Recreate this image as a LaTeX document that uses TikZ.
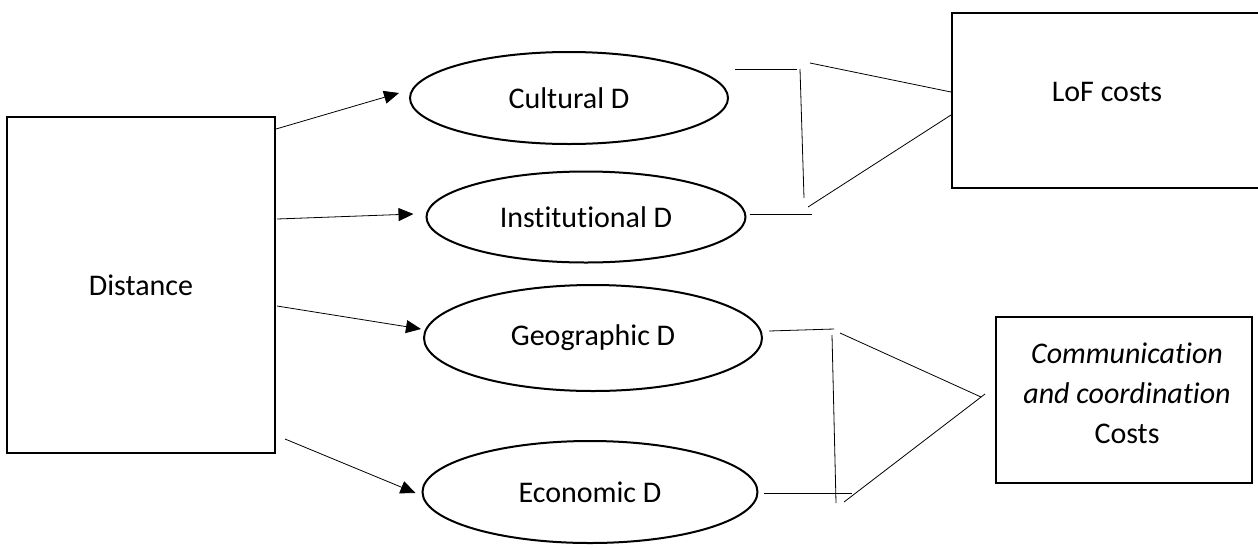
\documentclass[tikz,border=0pt]{standalone}
\usepackage{fontspec}
\setmainfont[Ligatures=NoCommon]{Carlito}
\usetikzlibrary{shapes.geometric,arrows.meta,calc}
\begin{document}
\begin{tikzpicture}[x=1pt,y=-1pt,
  box/.style={draw,line width=2pt,rectangle,inner sep=0pt},
  oval/.style={draw,line width=2pt,ellipse,inner sep=0pt},
  link/.style={line width=0.8pt},
  arr/.style={line width=0.8pt,-{Triangle[length=15pt,width=13pt]}},
  font=\fontsize{30}{40}\selectfont]
\useasboundingbox (0,0) rectangle (1258,547);

% nodes
\node[box,minimum width=268pt,minimum height=336pt] (dist) at (141,285) {Distance};
\node[oval,minimum width=318pt,minimum height=92pt] (cul) at (569,98) {Cultural D};
\node[oval,minimum width=319pt,minimum height=91pt] (ins) at (586,217) {Institutional D};
\node[oval,minimum width=338pt,minimum height=106pt] (geo) at (593,338) {Geographic D};
\node[oval,minimum width=335pt,minimum height=102pt] (eco) at (590,492) {Economic D};
\node[box,minimum width=310pt,minimum height=175pt] (lof) at (1107,100.5) {};
\node (lofT) at (1107,92) {LoF costs};
\node[box,minimum width=256pt,minimum height=166pt] (com) at (1124,400) {};
\node[align=center] (comT) at (1127,393) {\textit{Communication}\\\textit{and coordination}\\Costs};

% arrows from Distance
\draw[arr] ($(dist.north east)+(0,13)$) -- ($(cul.west)+(-10,-5)$);
\draw[arr] ($(dist.north east)+(1,103)$) -- ($(ins.west)+(-12,-3)$);
\draw[arr] ($(dist.north east)+(1,190)$) -- ($(geo.west)+(-2,-9)$);
\draw[arr] ($(dist.north east)+(9,323)$) -- ($(eco.west)+(-6,1)$);

% upper bracket to LoF costs
\coordinate (a2) at (797,69);
\coordinate (v1) at (800,69);
\coordinate (v2) at (804,198);
\coordinate (d1) at (810,63);
\coordinate (d2) at (808,207);
\coordinate (b2) at (812,214);
\draw[link] ($(cul.east)+(6,-29)$) -- (a2);
\draw[link] (v1) -- (v2);
\draw[link] (d1) -- ($(lof.north west)+(0,80)$);
\draw[link] (d2) -- ($(lof.north west)+(0,103)$);
\draw[link] ($(ins.east)+(3,-3)$) -- (b2);

% lower bracket to communication costs
\coordinate (g2) at (834,329);
\coordinate (w1) at (832,335);
\coordinate (w2) at (836,503);
\coordinate (e1) at (840,333);
\coordinate (e2) at (844,502);
\coordinate (h2) at (852,493);
\draw[link] ($(geo.east)+(6,-7)$) -- (g2);
\draw[link] (w1) -- (w2);
\draw[link] (e1) -- ($(com.west)+(-14,-3)$);
\draw[link] (e2) -- ($(com.west)+(-10,-6)$);
\draw[link] ($(eco.east)+(5,1)$) -- (h2);
\end{tikzpicture}
\end{document}
